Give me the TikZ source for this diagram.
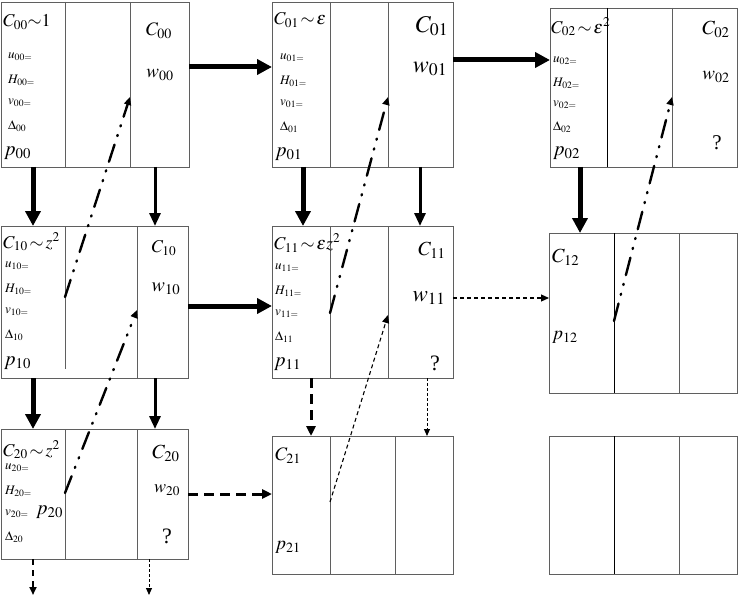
\documentclass[tikz,border=0pt]{standalone}
\usepackage{mathptmx}
\usepackage{fontspec}
\setmainfont{Liberation Serif}
\usetikzlibrary{arrows.meta}
\definecolor{boxgray}{RGB}{95,95,95}
\newcommand\fs[1]{\fontsize{#1}{#1}\selectfont}
\newcommand\cellbox[9]{%
  \node[boxnode, anchor=north west, minimum width=#4pt-#2pt, minimum height=#5pt-#3pt] (#1) at (#2,#3) {};
  \draw[div, draw=#8] (#6,#3) -- (#6,#9);
  \draw[div] (#7,#3) -- (#7,#5);
}
\newcommand\smalllabels[4]{% tag, x, y of first, step
  \node[lbl, font=\fs{13}] (u#1) at (#2,#3) {$u_{#1=}$};
  \node[lbl, font=\fs{13}] (H#1) at (#2,#3+#4) {$H_{#1=}$};
  \node[lbl, font=\fs{13}] (v#1) at (#2,#3+2*#4) {$v_{#1=}$};
  \node[lbl, font=\fs{13}] (D#1) at (#2,#3+3*#4) {$\Delta_{#1}$};
}
\tikzset{
  boxnode/.style={draw=boxgray, line width=0.9pt, inner sep=0pt, outer sep=0pt, fill=white},
  div/.style={draw=boxgray, line width=0.9pt},
  lbl/.style={inner sep=0pt, anchor=west},
  ctr/.style={inner sep=0pt, anchor=center},
  bigarrow/.style={line width=5pt, -{Triangle[length=15pt,width=15pt]}},
  medarrow/.style={line width=3pt, -{Triangle[length=13pt,width=11pt]}},
  dashdotarrow/.style={line width=2.4pt, line cap=round, dash pattern=on 18pt off 9pt on 1.2pt off 9pt on 1.2pt off 9pt, -{Triangle[length=8pt,width=7pt]}},
  thindash/.style={line width=1.1pt, dash pattern=on 4pt off 3pt, -{Triangle[length=8pt,width=7pt]}},
  thickdash/.style={line width=3pt, dash pattern=on 10pt off 6pt, -{Triangle[length=10pt,width=9pt]}},
  meddash/.style={line width=2.2pt, dash pattern=on 6pt off 5pt, -{Triangle[length=8pt,width=7pt]}},
  finedot/.style={line width=1pt, dash pattern=on 2.5pt off 2.5pt, -{Triangle[length=7pt,width=6pt]}},
}
\begin{document}
\begin{tikzpicture}[x=1pt, y=-1pt]
\useasboundingbox (0,0) rectangle (739,599);
% boxes
\cellbox{b00}{1}{2}{189}{167}{65}{130}{boxgray}{167}
\cellbox{b01}{272}{2}{453}{167}{330}{388}{boxgray}{167}
\cellbox{b02}{550}{8}{737}{167}{607}{672}{black}{167}
\cellbox{b10}{1}{226}{188}{378}{65}{137}{boxgray}{369}
\cellbox{b11}{272}{226}{453}{378}{330}{388}{boxgray}{378}
\cellbox{b12}{549}{233}{737}{393}{614}{679}{black}{393}
\cellbox{b20}{1}{429}{188}{559}{65}{137}{boxgray}{559}
\cellbox{b21}{272}{436}{453}{574}{330}{395}{boxgray}{574}
\cellbox{b22}{549}{436}{737}{574}{614}{679}{black}{574}

% texts box 00
\node[lbl, font=\fs{18}] (t00a) at (3,22) {$C_{00}{\sim}1$};
\smalllabels{00}{8}{57}{23}
\node[lbl, font=\fs{20}] (p00) at (4,153) {$p_{00}$};
\node[ctr, font=\fs{19}] (c00) at (159,31) {$C_{00}$};
\node[ctr, font=\fs{19}] (w00) at (160,75) {$w_{00}$};
% box 01
\node[lbl, font=\fs{18}] (t01a) at (274,20) {$C_{01}\,{\sim}\,\varepsilon$};
\smalllabels{01}{280}{58}{23}
\node[lbl, font=\fs{20}] (p01) at (275,154) {$p_{01}$};
\node[ctr, font=\fs{24}] (c01) at (432,26) {$C_{01}$};
\node[ctr, font=\fs{24}] (w01) at (430,69) {$w_{01}$};
% box 02
\node[lbl, font=\fs{18}] (t02a) at (551,27) {$C_{02}\,{\sim}\,\varepsilon^{2}$};
\smalllabels{02}{553}{61}{22}
\node[lbl, font=\fs{20}] (p02) at (553,153) {$p_{02}$};
\node[ctr, font=\fs{20}] (c02) at (716,29) {$C_{02}$};
\node[ctr, font=\fs{19}] (w02) at (716,77) {$w_{02}$};
\node[ctr, font=\fs{21}] (q02) at (717,143) {?};
% box 10
\node[lbl, font=\fs{18}] (t10a) at (3,242) {$C_{10}\,{\sim}\,z^{2}$};
\smalllabels{10}{5}{266}{23}
\node[lbl, font=\fs{20}] (p10) at (4,363) {$p_{10}$};
\node[ctr, font=\fs{18}] (c10) at (164,248) {$C_{10}$};
\node[ctr, font=\fs{20}] (w10) at (166,289) {$w_{10}$};
% box 11
\node[lbl, font=\fs{18}] (t11a) at (274,243) {$C_{11}\,{\sim}\,\varepsilon z^{2}$};
\smalllabels{11}{275}{268}{23}
\node[lbl, font=\fs{20}] (p11) at (274,364) {$p_{11}$};
\node[ctr, font=\fs{20}] (c11) at (432,250) {$C_{11}$};
\node[ctr, font=\fs{23}] (w11) at (429,298) {$w_{11}$};
\node[ctr, font=\fs{22}] (q11) at (435,363) {?};
% box 12
\node[lbl, font=\fs{20}] (c12) at (552,257) {$C_{12}$};
\node[lbl, font=\fs{19}] (p12) at (552,337) {$p_{12}$};
% box 20
\node[lbl, font=\fs{18}] (t20a) at (3,450) {$C_{20}\,{\sim}\,z^{2}$};
\smalllabels{20}{5}{468}{23}
\node[lbl, font=\fs{20}] (p20) at (36,512) {$p_{20}$};
\node[ctr, font=\fs{20}] (c20) at (166,453) {$C_{20}$};
\node[ctr, font=\fs{18}] (w20) at (167,490) {$w_{20}$};
\node[ctr, font=\fs{22}] (q20) at (167,536) {?};
% box 21
\node[lbl, font=\fs{19}] (c21) at (275,456) {$C_{21}$};
\node[lbl, font=\fs{19}] (p21) at (275,547) {$p_{21}$};

% horizontal connectors
\draw[bigarrow] (b00.east |- 0,67) -- (b01.west |- 0,67);
\draw[bigarrow] (b01.east |- 0,60) -- (b02.west |- 0,60);
\draw[bigarrow] (b10.east |- 0,306) -- (b11.west |- 0,306);
\draw[thindash] (b11.east |- 0,298) -- (b12.west |- 0,298);
\draw[thickdash] (b20.east |- 0,494) -- (b21.west |- 0,494);
% vertical connectors
\draw[bigarrow] (b00.south -| 33,0) -- (b10.north -| 33,0);
\draw[medarrow] (b00.south -| 155,0) -- (b10.north -| 155,0);
\draw[bigarrow] (b01.south -| 303,0) -- (b11.north -| 303,0);
\draw[medarrow] (b01.south -| 420,0) -- (b11.north -| 420,0);
\draw[bigarrow] (b02.south -| 580,0) -- (b12.north -| 580,0);
\draw[bigarrow] (b10.south -| 33,0) -- (b20.north -| 33,0);
\draw[medarrow] (b10.south -| 155,0) -- (b20.north -| 155,0);
\draw[thickdash] (b11.south -| 311,0) -- (b21.north -| 311,0);
\draw[finedot] (b11.south -| 427,0) -- (b21.north -| 427,0);
\coordinate (e1) at (33,595);
\coordinate (e2) at (149,595);
\draw[meddash] (b20.south -| 33,0) -- (e1);
\draw[finedot] (b20.south -| 149,0) -- (e2);
% dash-dot-dot diagonal connectors
\coordinate (s1) at (65,297);  \coordinate (f1) at (130,97);
\coordinate (s2) at (330,313); \coordinate (f2) at (388,97);
\coordinate (s3) at (614,321); \coordinate (f3) at (672,97);
\coordinate (s4) at (65,493);  \coordinate (f4) at (137,310);
\coordinate (s5) at (330,502); \coordinate (f5) at (388,315);
\draw[dashdotarrow] (s1) -- (f1);
\draw[dashdotarrow] (s2) -- (f2);
\draw[dashdotarrow] (s3) -- (f3);
\draw[dashdotarrow] (s4) -- (f4);
\draw[thindash] (s5) -- (f5);
\end{tikzpicture}
\end{document}
